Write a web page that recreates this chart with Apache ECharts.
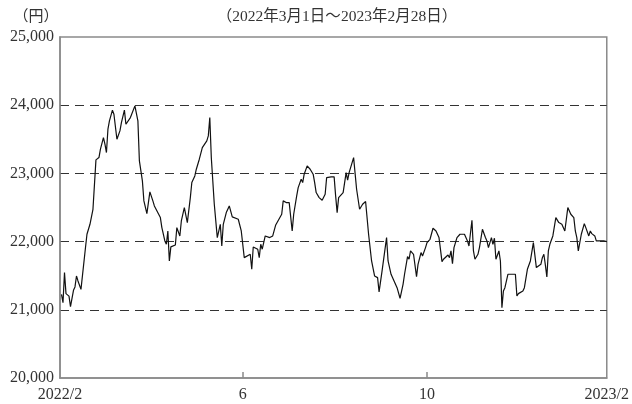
<!DOCTYPE html>
<html>
<head>
<meta charset="utf-8">
<script src="https://cdn.jsdelivr.net/npm/echarts@6/dist/echarts.min.js"></script>
<style>
  html, body { margin: 0; padding: 0; background: #fff; }
  #chart { width: 632px; height: 404px; }
</style>
</head>
<body>
<div id="chart"></div>
<script>
// daily close (円)
const dates = [
  '2022-03-01','2022-03-02','2022-03-03','2022-03-04','2022-03-06','2022-03-07','2022-03-09','2022-03-10','2022-03-11','2022-03-12',
  '2022-03-14','2022-03-17','2022-03-18','2022-03-20','2022-03-22','2022-03-24','2022-03-26','2022-03-27','2022-03-29','2022-03-30',
  '2022-03-31','2022-04-01','2022-04-02','2022-04-04','2022-04-05','2022-04-07','2022-04-09','2022-04-10','2022-04-12','2022-04-13',
  '2022-04-16','2022-04-19','2022-04-20','2022-04-21','2022-04-22','2022-04-24','2022-04-25','2022-04-27','2022-04-29','2022-05-01',
  '2022-05-02','2022-05-06','2022-05-07','2022-05-09','2022-05-10','2022-05-11','2022-05-12','2022-05-13','2022-05-16','2022-05-17',
  '2022-05-19','2022-05-20','2022-05-22','2022-05-24','2022-05-26','2022-05-27','2022-05-29','2022-05-30','2022-06-01','2022-06-03',
  '2022-06-06','2022-06-07','2022-06-08','2022-06-09','2022-06-11','2022-06-13','2022-06-15','2022-06-16','2022-06-17','2022-06-19',
  '2022-06-21','2022-06-23','2022-06-27','2022-06-28','2022-06-29','2022-07-01','2022-07-05','2022-07-06','2022-07-07','2022-07-10',
  '2022-07-11','2022-07-12','2022-07-13','2022-07-15','2022-07-18','2022-07-20','2022-07-22','2022-07-26','2022-07-27','2022-07-29',
  '2022-07-31','2022-08-02','2022-08-03','2022-08-05','2022-08-06','2022-08-08','2022-08-09','2022-08-10','2022-08-12','2022-08-14',
  '2022-08-16','2022-08-17','2022-08-18','2022-08-20','2022-08-22','2022-08-24','2022-08-25','2022-08-28','2022-08-30','2022-08-31',
  '2022-09-01','2022-09-02','2022-09-05','2022-09-06','2022-09-07','2022-09-08','2022-09-09','2022-09-12','2022-09-14','2022-09-15',
  '2022-09-16','2022-09-18','2022-09-20','2022-09-22','2022-09-24','2022-09-26','2022-09-28','2022-09-29','2022-10-01','2022-10-04',
  '2022-10-05','2022-10-06','2022-10-07','2022-10-09','2022-10-11','2022-10-13','2022-10-15','2022-10-16','2022-10-18','2022-10-19',
  '2022-10-20','2022-10-22','2022-10-24','2022-10-25','2022-10-27','2022-10-28','2022-10-30','2022-10-31','2022-11-02','2022-11-04',
  '2022-11-06','2022-11-08','2022-11-10','2022-11-11','2022-11-14','2022-11-15','2022-11-16','2022-11-17','2022-11-18','2022-11-20',
  '2022-11-22','2022-11-25','2022-11-27','2022-11-28','2022-11-30','2022-12-01','2022-12-02','2022-12-04','2022-12-05','2022-12-07',
  '2022-12-08','2022-12-09','2022-12-10','2022-12-11','2022-12-13','2022-12-14','2022-12-15','2022-12-16','2022-12-18','2022-12-19',
  '2022-12-20','2022-12-21','2022-12-22','2022-12-24','2022-12-27','2022-12-29','2022-12-30','2022-12-31','2023-01-03','2023-01-04',
  '2023-01-06','2023-01-08','2023-01-10','2023-01-12','2023-01-13','2023-01-15','2023-01-16','2023-01-17','2023-01-18','2023-01-19',
  '2023-01-20','2023-01-21','2023-01-23','2023-01-24','2023-01-25','2023-01-27','2023-01-29','2023-01-30','2023-01-31','2023-02-02',
  '2023-02-04','2023-02-06','2023-02-07','2023-02-08','2023-02-09','2023-02-11','2023-02-13','2023-02-14','2023-02-16','2023-02-17',
  '2023-02-18','2023-02-20','2023-02-21','2023-02-24','2023-02-26','2023-02-28'
];
const prices = [
  21227,21105,21545,21237,21200,21046,21286,21335,21496,21423,
  21300,21910,22108,22254,22474,23198,23232,23355,23526,23428,
  23306,23648,23770,23927,23868,23501,23623,23746,23927,23721,
  23819,23990,23990,23770,23183,22890,22597,22410,22729,22597,
  22523,22352,22205,22010,21961,22156,21716,21922,21951,22205,
  22083,22303,22499,22279,22645,22866,22963,23061,23208,23379,
  23477,23550,23819,23232,22548,22059,22254,21936,22254,22425,
  22523,22362,22328,22303,22156,21765,21814,21594,21922,21888,
  21765,21961,21888,22083,22059,22083,22244,22401,22597,22572,
  22572,22156,22401,22670,22792,22914,22866,22988,23110,23061,
  22988,22866,22719,22645,22606,22694,22939,22949,22949,22670,
  22425,22645,22719,22743,23012,22900,23012,23232,22768,22743,
  22474,22548,22587,22108,21716,21496,21472,21262,21570,22059,
  21716,21692,21521,21423,21325,21169,21374,21521,21780,21741,
  21863,21814,21487,21667,21839,21790,21912,21985,22034,22196,
  22156,22059,21707,21741,21804,21765,21863,21677,21912,22059,
  22108,22108,22010,21936,22313,21863,21741,21814,21912,22181,
  22181,22059,22010,21912,22059,21961,22049,21741,21863,21716,
  21032,21276,21325,21521,21521,21521,21203,21237,21276,21325,
  21594,21716,21986,21619,21643,21667,21765,21814,21658,21482,
  21863,21961,22083,22108,22352,22279,22254,22230,22156,22499,
  22401,22352,22156,22059,21863,22108,22264,22205,22083,22156,
  22117,22083,22010,22010,22010,22000
];
const tickDates = ['2022-02-28', '2022-06-30', '2022-10-31', '2023-02-28'];
const tickLabels = ['2022/2', '6', '10', '2023/2'];

const ts = s => new Date(s + 'T00:00:00').getTime();
const tickTs = tickDates.map(ts);
const serif = "'Liberation Serif', 'DejaVu Serif', 'Noto Sans CJK JP', serif";

const chart = echarts.init(document.getElementById('chart'));
chart.setOption({
  animation: false,
  backgroundColor: '#fff',
  grid: {
    left: 60, right: 24, top: 37, bottom: 26,
    show: true, borderColor: '#8a8a8a', borderWidth: 1.5
  },
  graphic: [
    { type: 'text', x: 36, y: 17,
      style: { text: '（円）', fontSize: 15, fontFamily: serif, fill: '#333', align: 'center', verticalAlign: 'middle' } },
    { type: 'text', x: 337, y: 17,
      style: { text: '（2022年3月1日～2023年2月28日）', fontSize: 15.5, fontFamily: serif, fill: '#333', align: 'center', verticalAlign: 'middle' } }
  ],
  xAxis: {
    type: 'value',
    min: tickTs[0],
    max: tickTs[3],
    axisLine: { show: true, lineStyle: { color: '#8a8a8a', width: 1.5 } },
    axisTick: {
      show: true, inside: true, length: 6,
      customValues: tickTs.slice(1, 3),
      lineStyle: { color: '#8a8a8a', width: 1.5 }
    },
    axisLabel: {
      customValues: tickTs,
      margin: 9,
      fontSize: 16,
      fontFamily: serif,
      color: '#333',
      formatter: v => {
        let best = 0;
        tickTs.forEach((t, i) => { if (Math.abs(t - v) < Math.abs(tickTs[best] - v)) best = i; });
        return tickLabels[best];
      }
    },
    splitLine: { show: false }
  },
  yAxis: {
    type: 'value',
    min: 20000, max: 25000, interval: 1000,
    axisLine: { show: true, lineStyle: { color: '#8a8a8a', width: 1.5 } },
    axisTick: { show: false },
    axisLabel: {
      margin: 6,
      fontSize: 16,
      fontFamily: serif,
      color: '#333',
      formatter: v => v.toLocaleString('en-US')
    },
    splitLine: {
      show: true, showMinLine: false, showMaxLine: false,
      lineStyle: { color: '#333', width: 1, type: [9, 6] }
    }
  },
  series: [{
    type: 'line',
    data: dates.map((d, i) => [ts(d), prices[i]]),
    showSymbol: false,
    lineStyle: { color: '#111', width: 1.2 },
    silent: true
  }]
});
</script>
</body>
</html>
